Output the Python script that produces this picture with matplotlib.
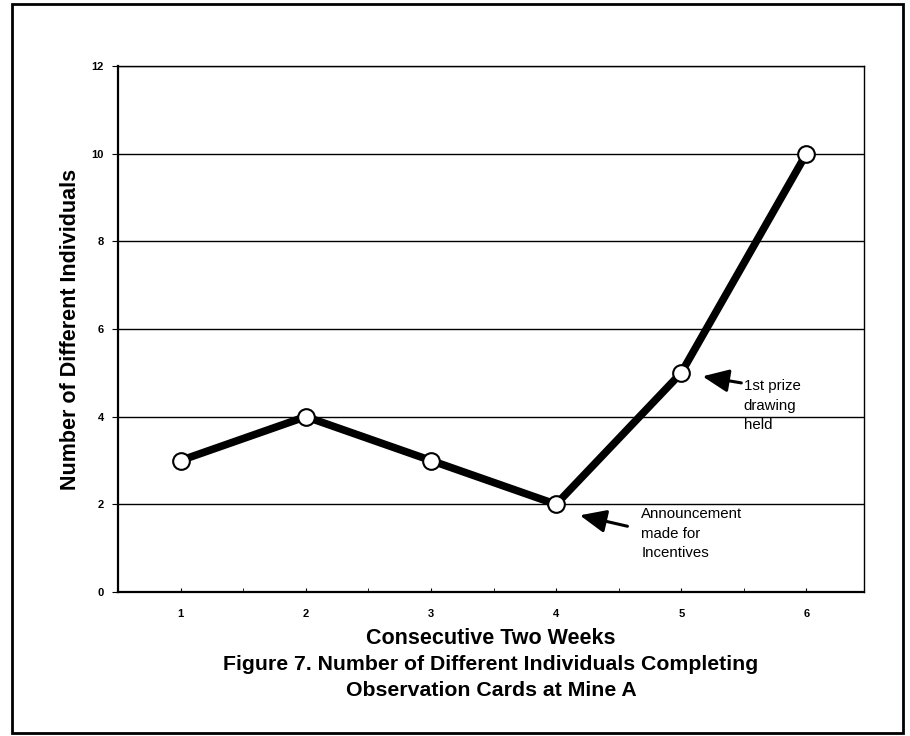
import matplotlib
matplotlib.use("Agg")
import matplotlib.pyplot as plt
from matplotlib.patches import Rectangle

weeks = [1, 2, 3, 4, 5, 6]
individuals = [3, 4, 3, 2, 5, 10]
yticks = [0, 2, 4, 6, 8, 10, 12]

plt.rcParams['font.family'] = ['Liberation Sans', 'DejaVu Sans']

fig = plt.figure(figsize=(9.10, 7.36), dpi=100)
ax = fig.add_axes([118/910, 1-592/736, (864-118)/910, (592-66)/736])

ax.set_xlim(0.52, 6.46)
ax.set_ylim(0, 12)
ax.set_yticks(yticks)
ax.set_xticks(weeks)
ax.set_xticks([w + 0.5 for w in weeks[:-1]] + [0.5], minor=True)
ax.grid(axis='y', color='black', linewidth=1.0)
ax.set_axisbelow(True)
for s in ax.spines.values():
    s.set_linewidth(1.0)
ax.spines['left'].set_linewidth(1.6)
ax.spines['bottom'].set_linewidth(1.6)
ax.tick_params(axis='y', direction='out', length=4, labelsize=8, pad=6)
ax.tick_params(axis='x', which='both', direction='in', length=3, labelsize=8, pad=12)
for lab in ax.get_xticklabels() + ax.get_yticklabels():
    lab.set_fontweight('bold')

ax.plot(weeks, individuals, color='black', linewidth=5.5, marker='o', markersize=12,
        markerfacecolor='white', markeredgecolor='black', markeredgewidth=1.5, zorder=3)

arrow_style = '-|>,head_length=1.6,head_width=0.7'
ax.annotate('', xy=(4.19, 1.75), xytext=(4.57, 1.5),
            arrowprops=dict(arrowstyle=arrow_style, color='black', lw=2.2, shrinkA=0, shrinkB=0))
ax.text(4.68, 1.93, 'Announcement\nmade for\nIncentives', fontsize=10.8, va='top', ha='left',
        linespacing=1.5)
ax.annotate('', xy=(5.17, 4.92), xytext=(5.48, 4.77),
            arrowprops=dict(arrowstyle=arrow_style, color='black', lw=2.2, shrinkA=0, shrinkB=0))
ax.text(5.5, 4.85, '1st prize\ndrawing\nheld', fontsize=10.8, va='top', ha='left',
        linespacing=1.5)

ax.set_ylabel('Number of Different Individuals', fontsize=15.5, fontweight='bold')
ax.yaxis.set_label_coords(-37/746, 0.5)
fig.text(491/910, 1-638/736, 'Consecutive Two Weeks', fontsize=15.5, fontweight='bold',
         ha='center', va='center')
fig.text(491/910, 1-665/736, 'Figure 7. Number of Different Individuals Completing', fontsize=15.3,
         fontweight='bold', ha='center', va='center')
fig.text(491/910, 1-690/736, 'Observation Cards at Mine A', fontsize=15.3,
         fontweight='bold', ha='center', va='center')

fig.patches.append(Rectangle((12/910, 1-733/736), (903-12)/910, (733-4)/736,
                             transform=fig.transFigure, fill=False, edgecolor='black', linewidth=2))

fig.savefig('out.png', dpi=100, facecolor='white')
